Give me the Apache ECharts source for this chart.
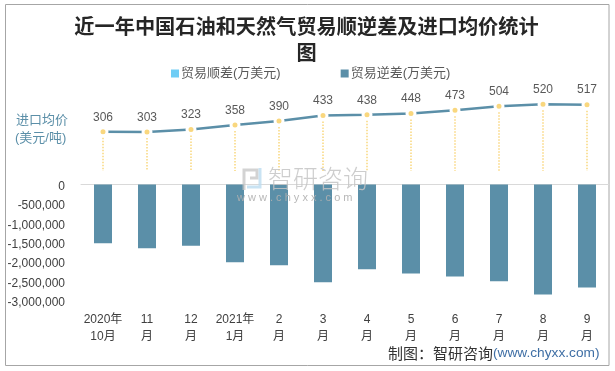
<!DOCTYPE html>
<html><head><meta charset="utf-8">
<style>html,body{margin:0;padding:0;background:#fff}#c{width:615px;height:371px}</style>
<script src="https://cdn.jsdelivr.net/npm/echarts@6/dist/echarts.min.js"></script>
</head><body><div id="c"></div>
<script>
const titleText = '近一年中国石油和天然气贸易顺逆差及进口均价统计\n图';
const categories = ['2020年\n10月','11\n月','12\n月','2021年\n1月','2\n月','3\n月','4\n月','5\n月','6\n月','7\n月','8\n月','9\n月'];
const surplus = [];
const deficit = [-1510000,-1640000,-1580000,-2000000,-2080000,-2520000,-2180000,-2290000,-2370000,-2490000,-2830000,-2650000];
const price = [306,303,323,358,390,433,438,448,473,504,520,517];
const axisColor='#d9d9d9', blue='#5b8fa8', yellow='#f9d77e', txt='#404040', font='"Liberation Sans","Noto Sans CJK SC",sans-serif';
const chart = echarts.init(document.getElementById('c'));
const wm='#c4c4c4';
chart.setOption({
  animation:false,
  backgroundColor:'#fff',
  title:{text:titleText,left:301.5,textAlign:'center',top:8,textStyle:{fontFamily:'"Noto Sans CJK SC",serif',fontSize:20.2,fontWeight:'bold',color:'#262626',lineHeight:26}},
  legend:{left:166,top:62,itemWidth:8,itemHeight:8,itemGap:60,icon:'rect',
    textStyle:{fontFamily:font,fontSize:13,color:'#595959',padding:[0,0,0,-3]},
    data:['贸易顺差(万美元)','贸易逆差(万美元)']},
  grid:[{left:81,right:6,top:184.5,height:116.5},{left:81,right:6,top:94,height:77}],
  xAxis:[
    {type:'category',gridIndex:0,data:categories,position:'bottom',axisLine:{show:false},axisTick:{show:false},
     axisLabel:{interval:0,margin:10,fontFamily:font,fontSize:12,lineHeight:17,color:txt}},
    {type:'category',gridIndex:0,data:categories,position:'top',axisLine:{show:true,lineStyle:{color:axisColor,width:1}},axisTick:{show:false},axisLabel:{show:false}},
    {type:'category',gridIndex:1,data:categories,show:false}
  ],
  yAxis:[
    {type:'value',gridIndex:0,min:-3000000,max:0,interval:500000,splitLine:{show:false},axisLine:{show:false},axisTick:{show:false},
     axisLabel:{margin:16,fontFamily:font,fontSize:12,color:txt,formatter:v=>'{a|'+v.toLocaleString('en-US')+'}',
       rich:{a:{fontFamily:font,fontSize:12,color:txt,padding:[4,0,0,0]}}}},
    {type:'value',gridIndex:1,min:0,max:600,show:false,splitLine:{show:false}}
  ],
  series:[
    {name:'贸易顺差(万美元)',type:'bar',xAxisIndex:0,yAxisIndex:0,data:surplus,itemStyle:{color:'#6fcdf5'}},
    {name:'贸易逆差(万美元)',type:'bar',xAxisIndex:0,yAxisIndex:0,data:deficit,barWidth:18,barGap:'-100%',itemStyle:{color:blue}},
    {name:'stems',type:'custom',xAxisIndex:2,yAxisIndex:1,data:price,z:3,silent:true,
     renderItem:(p,api)=>{const a=api.coord([p.dataIndex,api.value(1)]),b=api.coord([p.dataIndex,0]);
       return {type:'line',shape:{x1:a[0],y1:a[1],x2:b[0],y2:b[1]},style:{stroke:yellow,lineWidth:1.5,lineDash:[1.5,1.5]}};},
     encode:{x:0,y:1}},
    {name:'进口均价',type:'line',xAxisIndex:2,yAxisIndex:1,data:price,z:4,symbol:'circle',symbolSize:8,smooth:false,
     lineStyle:{color:blue,width:2.5},
     itemStyle:{color:yellow,borderColor:'#fff',borderWidth:3},
     label:{show:true,position:'top',distance:3,fontFamily:font,fontSize:12,color:'#595959'}}
  ],
  graphic:[
    {type:'rect',z:-1,shape:{x:5.5,y:4.5,width:603.5,height:361},style:{fill:'none',stroke:'#a6a6a6',lineWidth:1}},
    {type:'text',left:16,top:114,style:{text:'进口均价',fontFamily:font,fontSize:13,fill:blue}},
    {type:'text',left:15,top:132,style:{text:'(美元/吨)',fontFamily:font,fontSize:13,fill:blue,letterSpacing:1}},
    {type:'polyline',z:10,shape:{points:[[244,190],[244,170],[257,170],[257,178],[250,178]]},style:{fill:'none',stroke:wm,lineWidth:3,opacity:.75}},
    {type:'polyline',z:10,shape:{points:[[260,168],[260,187],[247,187]]},style:{fill:'none',stroke:'#bcdcf0',lineWidth:3,opacity:.8}},
    {type:'text',left:268,top:166,z:10,style:{text:'智研咨询',fontFamily:'"Noto Sans CJK SC"',fontWeight:300,fontSize:25,fill:wm,opacity:.85,letterSpacing:4}},
    {type:'text',left:237,top:192,z:10,style:{text:'w w w . c h y x x . c o m',fontFamily:font,fontSize:11,fill:'#b0b0b0',opacity:.9,letterSpacing:1}},
    {type:'text',left:388,top:346,z:10,style:{rich:{a:{fontFamily:'"Noto Sans CJK SC"',fontSize:15,fill:'#333'},b:{fontFamily:font,fontSize:13.7,fill:'#3f6fa5'}},text:'{a|制图：智研咨询}{b|(www.chyxx.com)}'}}
  ]
});
</script></body></html>
